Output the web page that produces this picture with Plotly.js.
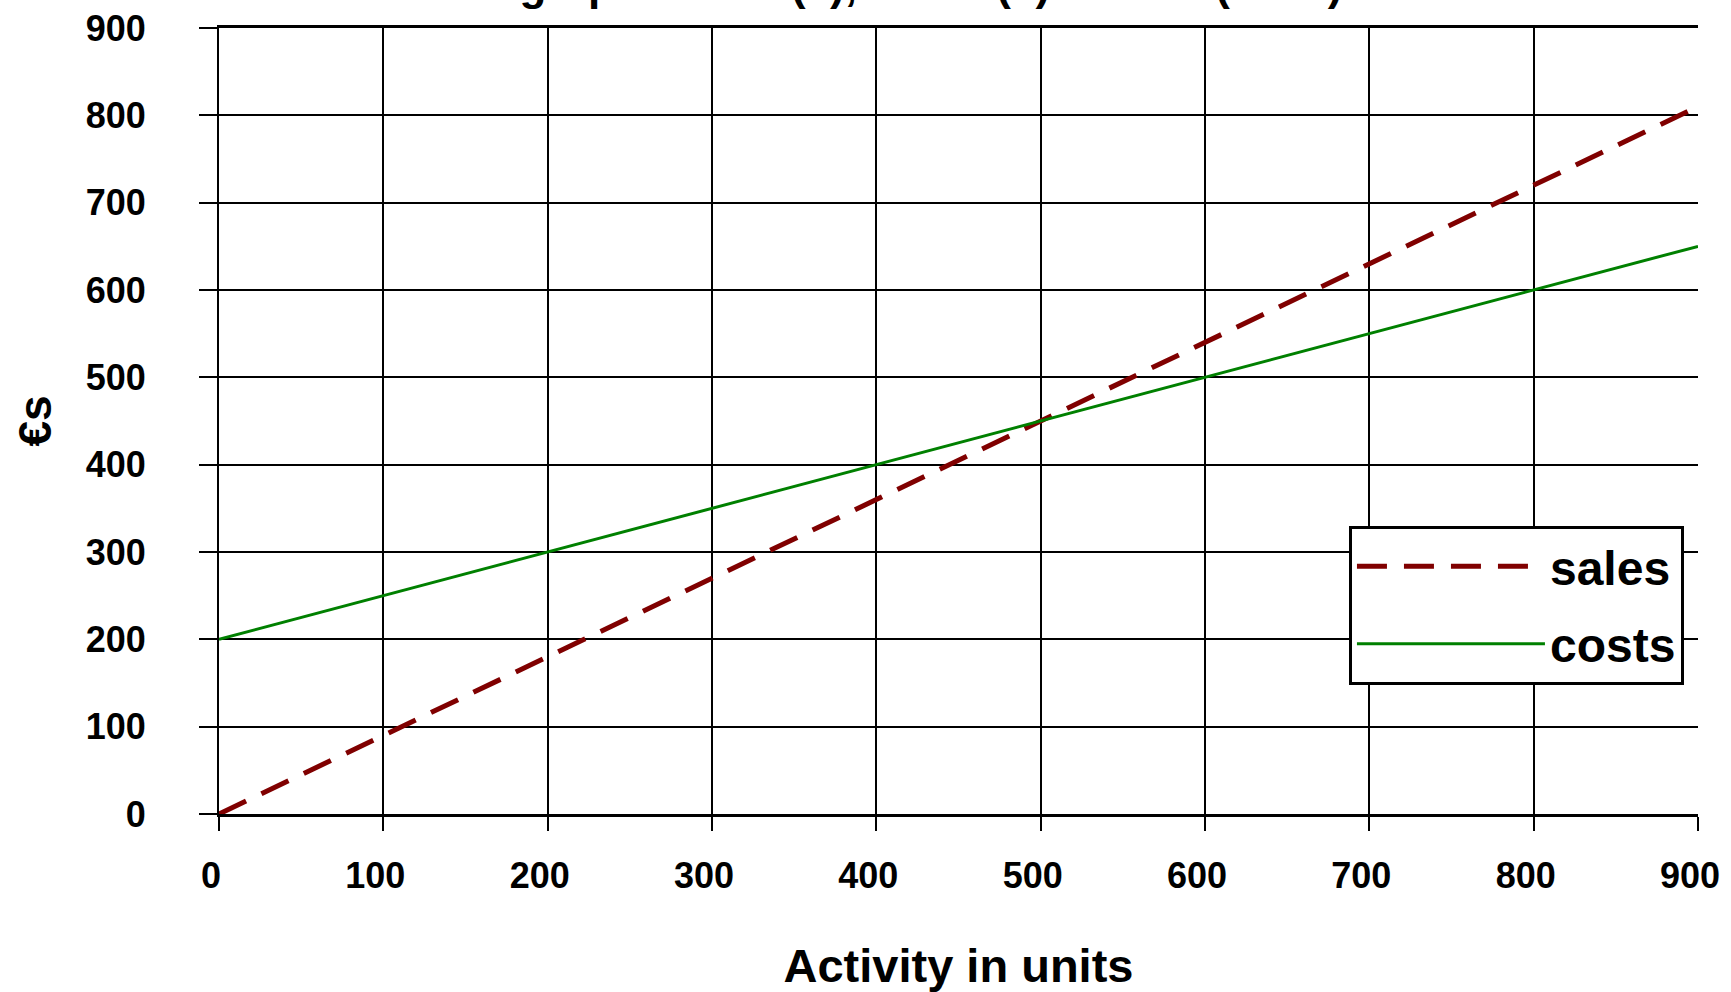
<!DOCTYPE html>
<html>
<head>
<meta charset="utf-8">
<script src="https://cdn.plot.ly/plotly-3.0.1.min.js"></script>
<style>
html, body { margin: 0; padding: 0; background: #ffffff; }
#chart { width: 1731px; height: 992px; }
</style>
</head>
<body>
<div id="chart"></div>
<script>
// Data
const activity = [0, 100, 200, 300, 400, 500, 600, 700, 800, 900];
const sales = [0, 90, 180, 270, 360, 450, 540, 630, 720, 810];
const costs = [200, 250, 300, 350, 400, 450, 500, 550, 600, 650];
const tickValues = [0, 100, 200, 300, 400, 500, 600, 700, 800, 900];
const tickLabels = ["0", "100", "200", "300", "400", "500", "600", "700", "800", "900"];
const seriesNames = ["sales", "costs"];
const titleText = "Break-even graph: sales (€), costs (€) = fixed (€200) + variable";
const xTitle = "Activity in units";
const yTitle = "€s";

const boldFont = "Liberation Sans, Arial, sans-serif";
const tickFontFamily = "Liberation Sans Narrow, Arial Narrow, Liberation Sans, Arial, sans-serif";

const traces = [
  {
    x: activity, y: sales, name: seriesNames[0], type: "scatter", mode: "lines",
    line: { color: "#800000", width: 5, dash: "30px,17px" },
    legendgroup: "a"
  },
  {
    x: activity, y: costs, name: seriesNames[1], type: "scatter", mode: "lines",
    line: { color: "#008000", width: 3 },
    legendgroup: "b"
  }
];

const axisCommon = {
  range: [0, 900],
  tickmode: "array",
  tickvals: tickValues,
  ticktext: tickLabels,
  showgrid: true,
  gridcolor: "#000000",
  gridwidth: 2,
  zeroline: false,
  ticks: "outside",
  tickcolor: "#000000",
  tickwidth: 2,
  showline: true,
  linecolor: "#000000",
  tickfont: { family: tickFontFamily, size: 36, color: "#000000", weight: "bold" },
  fixedrange: true
};

const layout = {
  width: 1731,
  height: 992,
  paper_bgcolor: "#ffffff",
  plot_bgcolor: "#ffffff",
  margin: { l: 219, r: 33, t: 28, b: 178 },
  showlegend: true,
  legend: {
    x: 0.764, xanchor: "left",
    y: 0.367, yanchor: "top",
    bgcolor: "#ffffff",
    bordercolor: "#000000",
    borderwidth: 3,
    font: { family: boldFont, size: 48, color: "#000000", weight: "bold" },
    itemwidth: 188,
    entrywidth: 345,
    entrywidthmode: "pixels",
    traceorder: "grouped",
    tracegroupgap: 12
  },
  xaxis: Object.assign({}, axisCommon, {
    ticklen: 14,
    ticklabelstandoff: 14,
    ticklabelshift: -8,
    linewidth: 3,
    mirror: true,
    title: { text: xTitle, font: { family: boldFont, size: 47, color: "#000000", weight: "bold" }, standoff: 56 }
  }),
  yaxis: Object.assign({}, axisCommon, {
    ticklen: 18,
    ticklabelstandoff: 46,
    linewidth: 2,
    title: { text: yTitle, font: { family: boldFont, size: 46, color: "#000000", weight: "bold" }, standoff: 20 }
  }),
  annotations: [
    {
      text: titleText,
      xref: "paper", yref: "paper",
      x: 0.47, y: 1,
      xanchor: "center", yanchor: "bottom",
      yshift: 17,
      showarrow: false,
      font: { family: boldFont, size: 44, color: "#000000", weight: "bold" }
    }
  ]
};

Plotly.newPlot("chart", traces, layout, { displayModeBar: false, staticPlot: true });
</script>
</body>
</html>
